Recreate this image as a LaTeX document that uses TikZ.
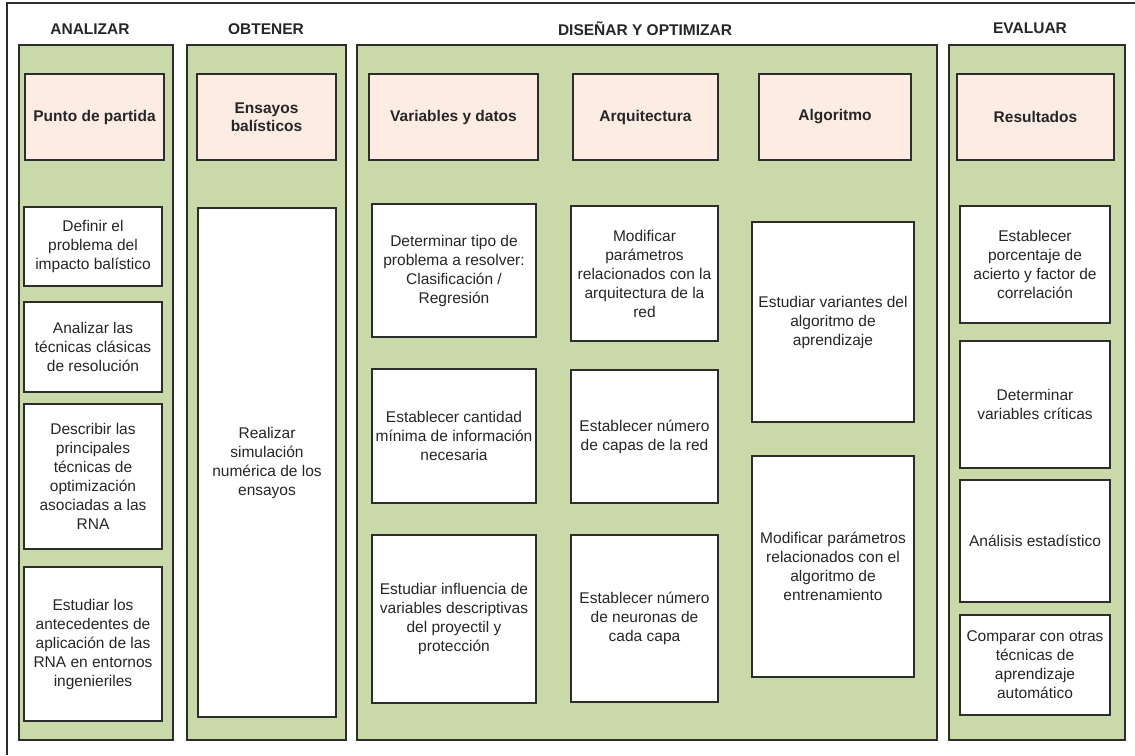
\documentclass[tikz,border=0pt]{standalone}
\usepackage{fontspec}
\setmainfont{Liberation Sans}
\usetikzlibrary{shadows}
\definecolor{panelgreen}{RGB}{201,217,169}
\definecolor{headpink}{RGB}{252,236,227}
\definecolor{edge}{RGB}{45,45,45}
\definecolor{ink}{RGB}{38,38,38}
\begin{document}
\begin{tikzpicture}[x=1pt,y=-1pt,
  sz/.style 2 args={minimum width=#1pt, minimum height=#2pt},
  soft/.style={drop shadow={shadow xshift=1.2pt, shadow yshift=-1.2pt, opacity=0.35, fill=black}},
  panel/.style={draw=edge, fill=panelgreen, line width=1.3pt, inner sep=0pt, soft},
  headbox/.style={draw=edge, fill=headpink, line width=1.3pt, inner sep=2pt, soft,
    align=center, text=ink, font=\fontsize{15.5}{18.5}\selectfont\bfseries},
  wbox/.style={draw=edge, fill=white, line width=1.3pt, inner sep=2pt, soft,
    align=center, text=ink, font=\fontsize{15.5}{19}\selectfont},
  phase/.style={text=ink, font=\fontsize{15.5}{18}\selectfont\bfseries, inner sep=0pt}
]
\useasboundingbox (0,0) rectangle (1135,755);

% outer frame
\coordinate (tl) at (7,3);
\coordinate (tr) at (1135,3);
\coordinate (bl) at (7,755);
\draw[edge, line width=1.3pt] (bl) -- (tl) -- (tr);

% phase titles
\node[phase] (t1) at (90,29) {ANALIZAR};
\node[phase] (t2) at (266,29) {OBTENER};
\node[phase] (t3) at (645,29) {DISEÑAR Y OPTIMIZAR};
\node[phase] (t4) at (1030,28) {EVALUAR};

% green panels
\node[panel, sz={154}{695}] (p1) at (96,392.5) {};
\node[panel, sz={159}{695}] (p2) at (266.5,392.5) {};
\node[panel, sz={580}{695}] (p3) at (647,392.5) {};
\node[panel, sz={176}{695}] (p4) at (1037,392.5) {};

% pink headers
\node[headbox, sz={139}{86}] (h1) at (94.5,117) {Punto de partida};
\node[headbox, sz={139}{86}] (h2) at (266.5,117) {Ensayos\\balísticos};
\node[headbox, sz={169}{86}] (h3) at (453.5,117) {Variables y datos};
\node[headbox, sz={145}{86}] (h4) at (645.5,117) {Arquitectura};
\node[headbox, sz={152}{86}] (h5) at (835,117) {Algoritmo};
\node[headbox, sz={157}{86}] (h6) at (1035.5,117) {Resultados};

% ANALIZAR
\node[wbox, sz={138}{79}] (a1) at (93,246.5) {Definir el\\problema del\\impacto balístico};
\node[wbox, sz={138}{90}] (a2) at (93,347) {Analizar las\\técnicas clásicas\\de resolución};
\node[wbox, sz={138}{145}] (a3) at (93,476.5) {Describir las\\principales\\técnicas de\\optimización\\asociadas a las\\RNA};
\node[wbox, sz={138}{154}] (a4) at (93,644) {Estudiar los\\antecedentes de\\aplicación de las\\RNA en entornos\\ingenieriles};

% OBTENER
\node[wbox, sz={138}{509}] (o1) at (267,462.5) {Realizar\\simulación\\numérica de los\\ensayos};

% DISEÑAR Y OPTIMIZAR: variables y datos
\node[wbox, sz={164}{133}] (v1) at (454,270.5) {Determinar tipo de\\problema a resolver:\\Clasificación /\\Regresión};
\node[wbox, sz={164}{134}] (v2) at (454,436) {Establecer cantidad\\mínima de información\\necesaria};
\node[wbox, sz={164}{168}] (v3) at (454,619) {Estudiar influencia de\\variables descriptivas\\del proyectil y\\protección};

% arquitectura
\node[wbox, sz={147}{135}] (r1) at (644.5,273.5) {Modificar\\parámetros\\relacionados con la\\arquitectura de la\\red};
\node[wbox, sz={147}{133}] (r2) at (644.5,436.5) {Establecer número\\de capas de la red};
\node[wbox, sz={147}{167}] (r3) at (644.5,618.5) {Establecer número\\de neuronas de\\cada capa};

% algoritmo
\node[wbox, sz={162}{200}] (g1) at (833,322) {Estudiar variantes del\\algoritmo de\\aprendizaje};
\node[wbox, sz={162}{221}] (g2) at (833,566.5) {Modificar parámetros\\relacionados con el\\algoritmo de\\entrenamiento};

% EVALUAR
\node[wbox, sz={150}{117}] (e1) at (1035,264.5) {Establecer\\porcentaje de\\acierto y factor de\\correlación};
\node[wbox, sz={150}{127}] (e2) at (1035,404.5) {Determinar\\variables críticas};
\node[wbox, sz={150}{122}] (e3) at (1035,541) {Análisis estadístico};
\node[wbox, sz={150}{100}] (e4) at (1035,665) {Comparar con otras\\técnicas de\\aprendizaje\\automático};
\end{tikzpicture}
\end{document}
